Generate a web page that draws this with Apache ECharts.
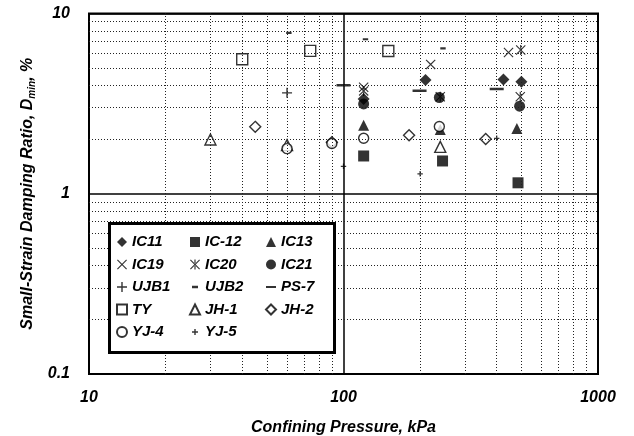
<!DOCTYPE html>
<html><head><meta charset="utf-8">
<script src="https://cdn.jsdelivr.net/npm/echarts@6/dist/echarts.min.js"></script>
<style>html,body{margin:0;padding:0;background:#fff}#c{width:634px;height:436px}</style>
</head><body><div id="c"></div>
<script>
// ---- data (confining pressure kPa, Dmin %) ----
const IC11  = [[120,3.35],[210,4.28],[425,4.3],[500,4.18]];
const IC12  = [[120,1.62],[245,1.52],[485,1.15]];
const IC13  = [[120,2.40],[240,2.27],[480,2.30]];
const IC19  = [[120,3.9],[220,5.22],[445,6.08]];
const IC20  = [[120,3.72],[240,3.45],[497,6.27],[495,3.45]];
const IC21  = [[120,3.15],[238,3.42],[492,3.06]];
const UJB1  = [[60,3.63]];
const UJB2  = [[61,7.8],[122,7.2],[246,6.4]];
const PS7   = [[100,4.0],[199,3.73],[400,3.81]];
const TY    = [[40,5.57],[74,6.2],[150,6.19]];
const JH1   = [[30,2.0],[60,1.86],[240,1.82]];
const JH2   = [[45,2.35],[90,1.93],[181,2.11],[362,2.01]];
const YJ4   = [[60,1.78],[90,1.9],[120,2.03],[238,2.36]];
const YJ5   = [[100,1.42],[200,1.29],[400,2.03]];
const xMinor = [20,30,40,50,60,70,80,90,200,300,400,500,600,700,800,900];
const yMinor = [0.2,0.3,0.4,0.5,0.6,0.7,0.8,0.9,2,3,4,5,6,7,8,9];
const legendCols = [
  ['IC11','IC19','UJB1','TY','YJ-4'],
  ['IC-12','IC20','UJB2','JH-1','YJ-5'],
  ['IC13','IC21','PS-7','JH-2']
];

const FONT = '"Liberation Sans", Arial, sans-serif';
const BOX = 'M0,0L0.01,0L0,0.01Z M10,10L9.99,10L10,9.99Z ';
const SYM = {
  cross: 'path://M0,0.8L0.8,0L5,4.2L9.2,0L10,0.8L5.8,5L10,9.2L9.2,10L5,5.8L0.8,10L0,9.2L4.2,5Z',
  star: 'path://M0,0.8L0.8,0L5,4.2L9.2,0L10,0.8L5.8,5L10,9.2L9.2,10L5,5.8L0.8,10L0,9.2L4.2,5Z M4.4,0H5.6V3.6H4.4Z M4.4,6.4H5.6V10H4.4Z',
  plus: 'path://M4.3,0H5.7V4.3H10V5.7H5.7V10H4.3V5.7H0V4.3H4.3Z',
  plusSmall: 'path://' + BOX + 'M4.3,2H5.7V4.3H8V5.7H5.7V8H4.3V5.7H2V4.3H4.3Z',
  dashShort: 'path://' + BOX + 'M2,3.8H8V6.2H2Z',
  dashLong: 'path://' + BOX + 'M0,4.1H10V5.9H0Z'
};
const filled = {color:'#000'};
const open = {color:'#fff', borderColor:'#000', borderWidth:1.4};

function s(name, data, symbol, size, style){
  return {name, type:'scatter', data, symbol, symbolSize:size, itemStyle:style, z:3,
          emphasis:{disabled:true}, silent:true};
}

const series = [
  {type:'scatter', name:'__grid', data:[], z:1, silent:true,
   markLine:{silent:true, symbol:'none', label:{show:false},
     lineStyle:{color:'#222', width:1, type:[1,2]},
     data: xMinor.map(v=>({xAxis:v})).concat(yMinor.map(v=>({yAxis:v})))}},
  s('IC11', IC11, 'diamond', 12, filled),
  s('IC-12', IC12, 'rect', 11, filled),
  s('IC13', IC13, 'triangle', 11, filled),
  s('IC19', IC19, SYM.cross, 10, filled),
  s('IC20', IC20, SYM.star, 10, filled),
  s('IC21', IC21, 'circle', 11, filled),
  s('UJB1', UJB1, SYM.plus, 10, filled),
  s('UJB2', UJB2, SYM.dashShort, 9, filled),
  s('PS-7', PS7, SYM.dashLong, 14, filled),
  s('TY', TY, 'rect', 11, open),
  s('JH-1', JH1, 'triangle', 11, open),
  s('JH-2', JH2, 'diamond', 11, open),
  s('YJ-4', YJ4, 'circle', 10, open),
  s('YJ-5', YJ5, SYM.plusSmall, 9, filled)
];

const lblStyle = {fontFamily:FONT, fontWeight:'bold', fontStyle:'italic', fontSize:16, color:'#000'};
const legendBase = {orient:'vertical', padding:0, itemWidth:10, itemHeight:10, itemGap:7.5,
  selectedMode:false, z:20,
  textStyle:{fontFamily:FONT, fontWeight:'bold', fontStyle:'italic', fontSize:15, color:'#000', lineHeight:15}};

const chart = echarts.init(document.getElementById('c'), null, {renderer:'canvas'});
chart.setOption({
  animation:false,
  backgroundColor:'#fff',
  grid:{left:89, right:36, top:13.5, bottom:62, show:true, borderColor:'#000', borderWidth:2,
        backgroundColor:'transparent', containLabel:false, outerBoundsMode:'none'},
  xAxis:{type:'log', logBase:10, min:10, max:1000,
    name:'Confining Pressure, kPa', nameLocation:'middle', nameGap:46,
    nameTextStyle:Object.assign({}, lblStyle, {fontSize:16}),
    axisLine:{show:false}, axisTick:{show:false},
    axisLabel:Object.assign({margin:16, formatter:v=>String(v)}, lblStyle),
    splitLine:{show:true, lineStyle:{color:'#000', width:1.5}}},
  yAxis:{type:'log', logBase:10, min:0.1, max:10,
    name:'{a|Small-Strain Damping Ratio, D}{b|min}{a|, %}', nameLocation:'middle', nameGap:52, nameRotate:90,
    nameTextStyle:{rich:{
      a:{fontFamily:FONT, fontWeight:'bold', fontStyle:'italic', fontSize:16, color:'#000', lineHeight:18},
      b:{fontFamily:FONT, fontWeight:'bold', fontStyle:'italic', fontSize:10, color:'#000', lineHeight:18, verticalAlign:'bottom', padding:[6,0,0,0]}}},
    axisLine:{show:false}, axisTick:{show:false},
    axisLabel:Object.assign({margin:19, formatter:v=>String(v)}, lblStyle),
    splitLine:{show:true, lineStyle:{color:'#000', width:1.5}}},
  graphic:[{type:'rect', left:108, top:222, z:15,
    shape:{width:225, height:129}, style:{fill:'#fff', stroke:'#000', lineWidth:3}}],
  legend:[
    Object.assign({}, legendBase, {data:legendCols[0], left:116, top:234.5}),
    Object.assign({}, legendBase, {data:legendCols[1], left:189, top:234.5}),
    Object.assign({}, legendBase, {data:legendCols[2], left:265, top:234.5})
  ],
  series
});
</script>
</body></html>
